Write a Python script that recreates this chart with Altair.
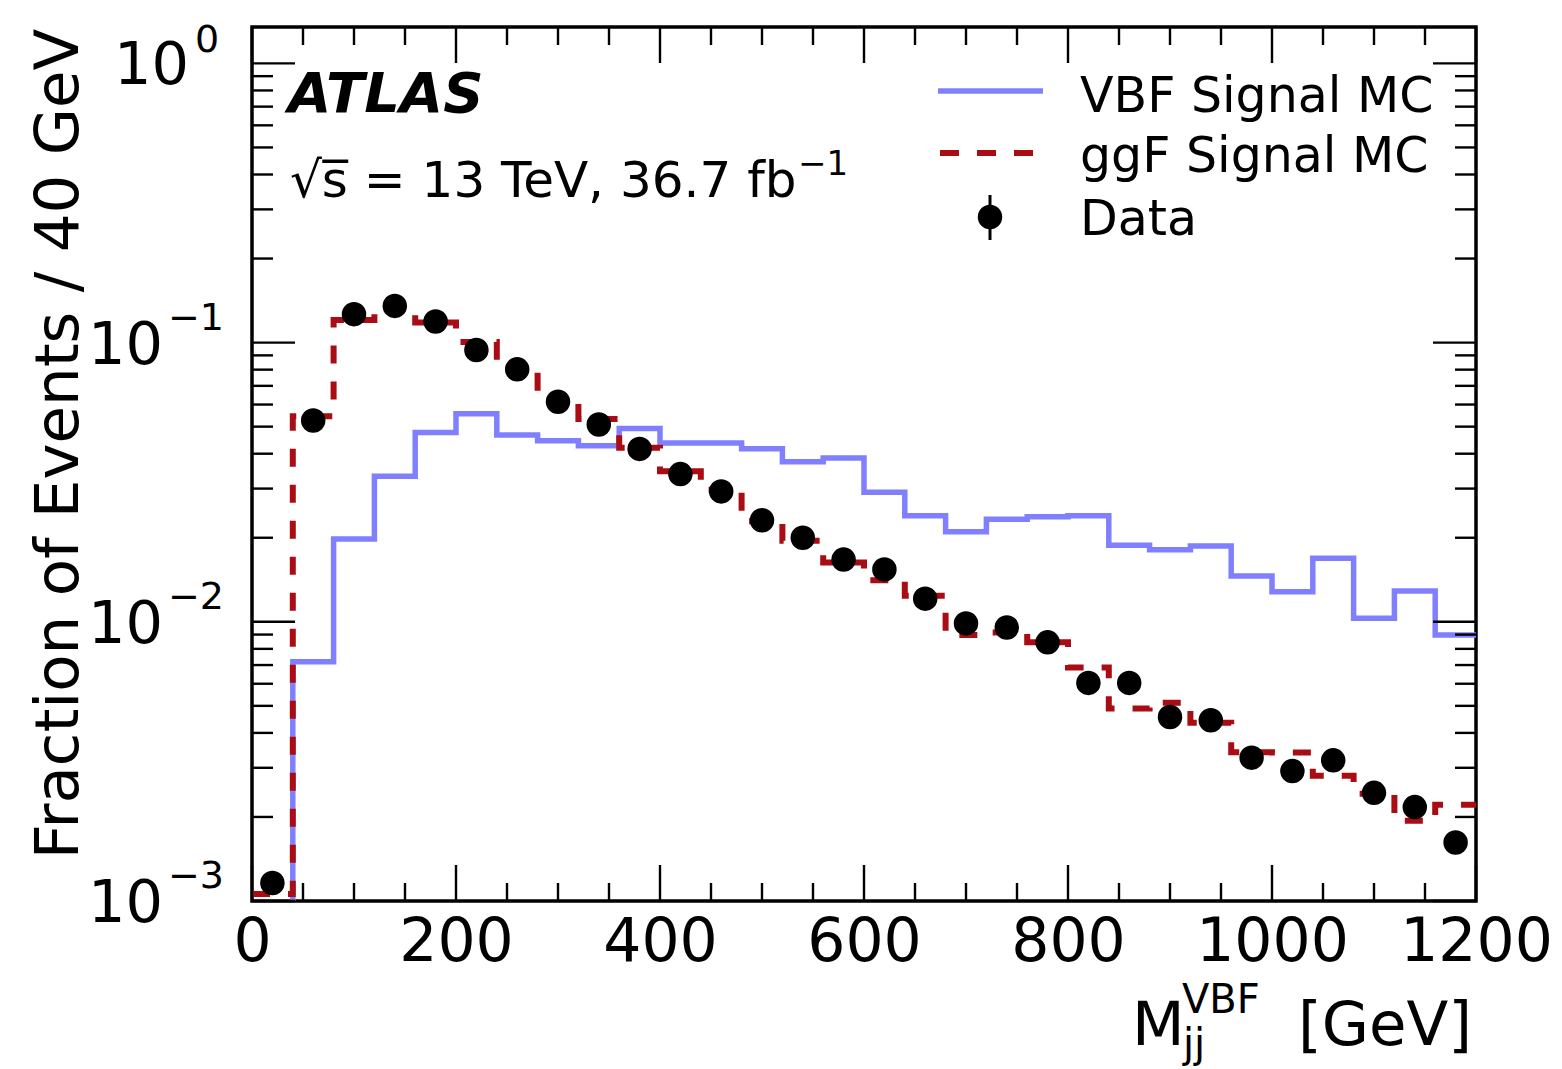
import altair as alt
import pandas as pd

# ---------------- data ----------------
bin_edges = list(range(0, 1201, 40))           # 31 edges, 30 bins of 40 GeV
vbf_mc = [0.0001, 0.0072, 0.0198, 0.0332, 0.0476, 0.0556, 0.0467, 0.0445, 0.0427, 0.0492,
          0.0437, 0.0437, 0.0417, 0.0374, 0.0386, 0.0291, 0.0240, 0.0210, 0.0233, 0.0238,
          0.0240, 0.0188, 0.0181, 0.0187, 0.0146, 0.0128, 0.0169, 0.0103, 0.0129, 0.00896]
ggf_mc = [0.00106, 0.0545, 0.1206, 0.1328, 0.118, 0.1005, 0.0826, 0.0634, 0.0533, 0.0420,
          0.0346, 0.0297, 0.0229, 0.0195, 0.0163, 0.0141, 0.0124, 0.00896, 0.00916, 0.00844,
          0.00686, 0.00489, 0.00513, 0.00435, 0.00341, 0.00340, 0.00281, 0.00242, 0.00194, 0.00221]
data_centers = [20 + 40 * i for i in range(30)]
data_vals = [0.00116, 0.0526, 0.1264, 0.1353, 0.119, 0.0941, 0.0802, 0.0614, 0.0509, 0.0416,
             0.0338, 0.0293, 0.0231, 0.0200, 0.0167, 0.0154, 0.0121, 0.00987, 0.00954, 0.00844,
             0.00604, 0.00604, 0.00456, 0.00444, 0.00326, 0.00292, 0.00319, 0.00244, 0.00217, 0.00162]

x_major = [0, 200, 400, 600, 800, 1000, 1200]
x_minor = [v for v in range(50, 1200, 50) if v % 200 != 0]
y_major = [0.001, 0.01, 0.1, 1.0]
y_minor = [k * 10.0 ** d for d in (-3, -2, -1) for k in range(2, 10)]
y_exps = ["\u22123", "\u22122", "\u22121", "0"]

W, H = 1224, 874
FONT = "DejaVu Sans"
BLUE = "#8080ff"
RED = "#aa0c14"

def step_df(vals):
    return pd.DataFrame({"x": bin_edges, "y": vals + [vals[-1]]})

xs = alt.X("x:Q", scale=alt.Scale(domain=[0, 1200], nice=False, zero=False),
           axis=alt.Axis(values=x_major, ticks=False, domain=False, grid=False, title=None,
                         labelFontSize=60, labelFont=FONT, labelColor="black",
                         labelPadding=12, labelFlush=False, labelOverlap=False, format="d"))
ys = alt.Y("y:Q", scale=alt.Scale(type="log", domain=[0.001, 1.35], nice=False), axis=None)

vbf_line = alt.Chart(step_df(vbf_mc)).mark_line(
    interpolate="step-after", color=BLUE, strokeWidth=5.5, clip=True
).encode(x=xs, y=ys)

ggf_line = alt.Chart(step_df(ggf_mc)).mark_line(
    interpolate="step-after", color=RED, strokeWidth=6, strokeDash=[18, 18], clip=True
).encode(x=xs, y=ys)

pts = alt.Chart(pd.DataFrame({"x": data_centers, "y": data_vals})).mark_circle(
    size=600, color="black", opacity=1
).encode(x=xs, y=ys)

# ---------------- inward ticks ----------------
def xticks(vals, length):
    df = pd.DataFrame({"x": vals})
    b = alt.Chart(df).mark_rule(color="black", strokeWidth=2.4).encode(
        x=xs, y=alt.value(H - length), y2=alt.value(H))
    t = alt.Chart(df).mark_rule(color="black", strokeWidth=2.4).encode(
        x=xs, y=alt.value(0), y2=alt.value(length))
    return [b, t]

def yticks(vals, length):
    df = pd.DataFrame({"y": vals})
    l = alt.Chart(df).mark_rule(color="black", strokeWidth=2.4).encode(
        y=ys, x=alt.value(0), x2=alt.value(length))
    r = alt.Chart(df).mark_rule(color="black", strokeWidth=2.4).encode(
        y=ys, x=alt.value(W - length), x2=alt.value(W))
    return [l, r]

ticks = xticks(x_major, 36) + xticks(x_minor, 18) + yticks(y_major, 43) + yticks(y_minor, 21)

# ---------------- y tick labels 10^n ----------------
ylab = pd.DataFrame({"y": y_major, "e": y_exps})
ylab_neg = ylab[ylab["e"] != "0"]
ylab_zero = ylab[ylab["e"] == "0"]
ylabels = [
    alt.Chart(ylab_neg).mark_text(font=FONT, fontSize=59, align="right", baseline="alphabetic",
                                  dy=21, color="black").encode(
        y=ys, x=alt.value(163 - 252), text=alt.value("10")),
    alt.Chart(ylab_neg).mark_text(font=FONT, fontSize=38, align="left", baseline="alphabetic",
                                  dy=-13, color="black").encode(
        y=ys, x=alt.value(168 - 252), text="e:N"),
    alt.Chart(ylab_zero).mark_text(font=FONT, fontSize=59, align="right", baseline="alphabetic",
                                   dy=21, color="black").encode(
        y=ys, x=alt.value(189 - 252), text=alt.value("10")),
    alt.Chart(ylab_zero).mark_text(font=FONT, fontSize=38, align="left", baseline="alphabetic",
                                   dy=-11, color="black").encode(
        y=ys, x=alt.value(195 - 252), text="e:N"),
]

# ---------------- texts ----------------
one = pd.DataFrame({"a": [0]})

def txt(s, x, y, size, align="left", **kw):
    return alt.Chart(one).mark_text(font=FONT, fontSize=size, align=align,
                                    baseline="alphabetic", color="black", **kw).encode(
        x=alt.value(x), y=alt.value(y), text=alt.value(s))

texts = [
    txt("ATLAS", 36, 85, 56, fontStyle="italic", fontWeight="bold"),
    txt("\u221as\u0305 = 13 TeV, 36.7 fb", 38, 170, 50),
    txt("\u22121", 546, 148, 34),
    txt("Fraction of Events / 40 GeV", 78 - 252, 417, 61, align="center", angle=270),
    txt("M", 880, 1018, 61),
    txt("VBF", 930, 986, 40),
    txt("jj", 931, 1030, 40),
    txt("[GeV]", 1220, 1018, 61, align="right"),
    txt("VBF Signal MC", 828, 85, 49),
    txt("ggF Signal MC", 828, 145, 49),
    txt("Data", 828, 208, 49),
]

# ---------------- legend symbols ----------------
legend = [
    alt.Chart(one).mark_rule(color=BLUE, strokeWidth=5.5).encode(
        x=alt.value(686), x2=alt.value(791), y=alt.value(64)),
    alt.Chart(one).mark_rule(color=RED, strokeWidth=6, strokeDash=[19, 18]).encode(
        x=alt.value(688), x2=alt.value(784), y=alt.value(126)),
    alt.Chart(one).mark_rule(color="black", strokeWidth=3).encode(
        x=alt.value(738), y=alt.value(168), y2=alt.value(213)),
    alt.Chart(one).mark_circle(size=600, color="black", opacity=1).encode(
        x=alt.value(738), y=alt.value(190)),
]

chart = alt.layer(
    vbf_line, ggf_line, pts, *ticks, *ylabels, *texts, *legend
).properties(
    width=W, height=H,
    padding={"left": 252, "top": 27, "right": 86, "bottom": 168},
    autosize=alt.AutoSizeParams(type="none"),
).configure(
    background="white",
    view=alt.ViewConfig(stroke="black", strokeWidth=3.5),
)

chart.save("out.html", embed_options={"renderer": "svg", "actions": False})
